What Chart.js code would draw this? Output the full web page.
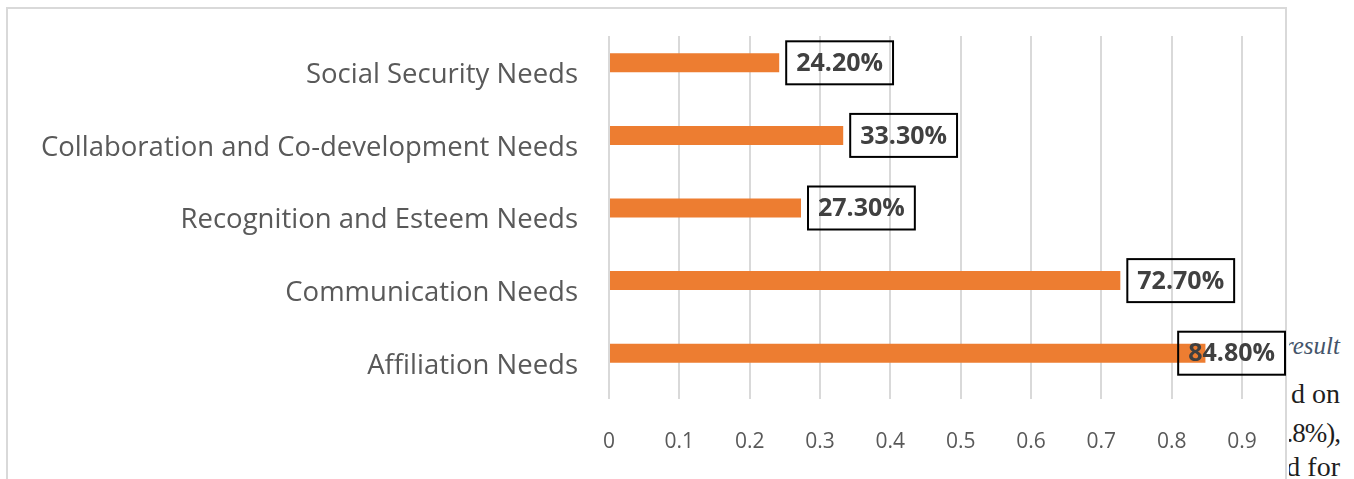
<!DOCTYPE html>
<html>
<head>
<meta charset="utf-8">
<script src="https://cdn.jsdelivr.net/npm/chart.js@4/dist/chart.umd.min.js"></script>
<style>
  html,body{margin:0;padding:0;background:#fff;width:1354px;height:479px;overflow:hidden;}
  #wrap{position:absolute;left:0;top:0;width:1289px;height:479px;z-index:2;background:#fff;}
  .doc{position:absolute;right:14px;z-index:1;font-family:"Liberation Serif","DejaVu Serif",serif;font-size:28px;color:#1e1e1e;white-space:nowrap;line-height:1;text-align:right;}
</style>
</head>
<body>
<div class="doc" style="top:333px;font-style:italic;color:#44546a;font-size:25px;">result</div>
<div class="doc" style="top:380px;">d on</div>
<div class="doc" style="top:420px;font-size:27px;letter-spacing:-1px;">.8%),</div>
<div class="doc" style="top:453px;">d for</div>
<div id="wrap"><canvas id="c" width="1289" height="479"></canvas></div>
<script>
const categories = [
  "Social Security Needs",
  "Collaboration and Co-development Needs",
  "Recognition and Esteem Needs",
  "Communication Needs",
  "Affiliation Needs"
];
const values = [0.242, 0.333, 0.273, 0.727, 0.848];
const emptySeries = [null, null, null, null, null];
const valueLabels = ["24.20%", "33.30%", "27.30%", "72.70%", "84.80%"];
const xTicks = [0, 0.1, 0.2, 0.3, 0.4, 0.5, 0.6, 0.7, 0.8, 0.9];

const framePlugin = {
  id: 'frame',
  beforeDraw(chart) {
    const ctx = chart.ctx;
    ctx.save();
    ctx.fillStyle = '#fff';
    ctx.fillRect(0, 0, chart.width, chart.height);
    ctx.strokeStyle = '#d9d9d9';
    ctx.lineWidth = 2;
    ctx.strokeRect(7, 8, 1279, 600);
    ctx.restore();
  }
};

const labelPlugin = {
  id: 'boxLabels',
  afterDatasetsDraw(chart) {
    const ctx = chart.ctx;
    const meta = chart.getDatasetMeta(0);
    ctx.save();
    ctx.font = 'bold 25px "Open Sans"';
    ctx.textAlign = 'center';
    ctx.textBaseline = 'middle';
    meta.data.forEach((bar, i) => {
      const txt = valueLabels[i];
      const tw = ctx.measureText(txt).width;
      const w = tw + 20, h = 43;
      let left = bar.x + 7;
      if (left + w > chart.width - 4) left = chart.width - 4 - w;
      const top = bar.y - h / 2;
      ctx.strokeStyle = '#000';
      ctx.lineWidth = 2;
      ctx.strokeRect(left, top, w, h);
      ctx.fillStyle = '#404040';
      ctx.fillText(txt, left + w / 2, bar.y + 1);
    });
    ctx.restore();
  }
};

new Chart(document.getElementById('c'), {
  type: 'bar',
  data: {
    labels: categories,
    datasets: [{
      data: values,
      backgroundColor: '#ED7D31',
      borderWidth: 0,
      barPercentage: 1,
      categoryPercentage: 0.523
    }, {
      data: emptySeries,
      backgroundColor: '#A5A5A5',
      borderWidth: 0,
      barPercentage: 1,
      categoryPercentage: 0.523
    }]
  },
  options: {
    indexAxis: 'y',
    responsive: false,
    animation: false,
    layout: { padding: { top: 36, right: 47, left: 0, bottom: 0 } },
    plugins: { legend: { display: false }, tooltip: { enabled: false } },
    scales: {
      x: {
        min: 0, max: 0.9,
        afterBuildTicks(s) { s.ticks = xTicks.map(v => ({ value: v })); },
        afterFit(s) { s.height = 80; s.paddingLeft = 0; s.paddingRight = 0; },
        grid: { color: '#d9d9d9', lineWidth: 2, drawTicks: false },
        border: { display: false },
        ticks: {
          padding: 30,
          color: '#595959',
          font: { family: '"Open Sans"', size: 21 },
          callback: (v) => String(v)
        }
      },
      y: {
        afterFit(s) { s.width = 609; s.paddingTop = 0; s.paddingBottom = 0; },
        grid: { display: false, drawTicks: false },
        border: { display: false },
        ticks: {
          padding: 31,
          labelOffset: 3,
          color: '#595959',
          font: { family: '"Open Sans"', size: 27.5 }
        }
      }
    }
  },
  plugins: [framePlugin, labelPlugin]
});
</script>
</body>
</html>
